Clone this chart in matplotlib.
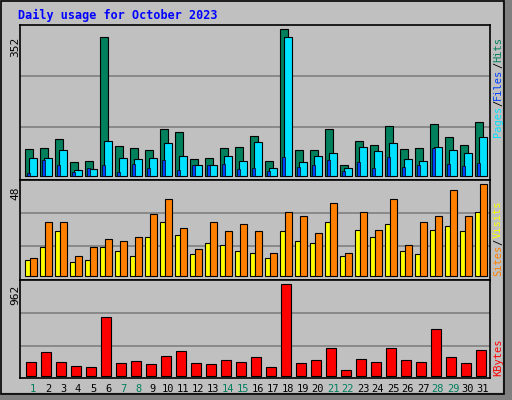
import matplotlib
matplotlib.use("Agg")
import matplotlib.pyplot as plt
from matplotlib.patches import Rectangle

days = list(range(1, 32))
weekend = [1, 7, 8, 14, 15, 21, 22, 28, 29]
hits = [68, 71, 94, 36, 38, 352, 76, 71, 66, 121, 111, 43, 46, 71, 73, 101, 40, 372, 66, 66, 121, 28, 89, 79, 127, 68, 71, 132, 99, 79, 137]
files = [46, 46, 66, 15, 18, 89, 46, 43, 46, 84, 51, 28, 28, 51, 38, 86, 20, 352, 35, 51, 58, 20, 73, 63, 84, 43, 38, 73, 66, 58, 99]
pages = [8, 41, 28, 10, 20, 28, 10, 30, 20, 41, 15, 28, 28, 30, 18, 20, 13, 48, 23, 28, 41, 13, 35, 20, 48, 23, 28, 71, 30, 25, 33]
visits = [8.4, 15.2, 23.5, 7.3, 8.4, 15.2, 13.1, 10.4, 20.3, 28.2, 21.4, 11.5, 17.2, 16.2, 13.1, 12.0, 9.4, 23.5, 18.3, 17.2, 28.2, 10.4, 24.0, 20.3, 27.2, 13.1, 11.5, 24.0, 26.1, 23.5, 33.4]
sites = [9.4, 28.2, 28.2, 10.4, 15.2, 19.3, 18.3, 20.3, 32.3, 40.1, 25.1, 14.1, 28.2, 23.5, 27.2, 23.5, 11.9, 33.4, 31.3, 22.5, 38.1, 11.9, 33.4, 24.0, 40.1, 16.2, 28.2, 31.3, 45.1, 31.3, 48.0]
kbytes = [140, 246, 140, 98, 88, 615, 130, 151, 119, 204, 256, 130, 119, 161, 140, 193, 88, 962, 130, 161, 288, 56, 172, 140, 288, 161, 140, 488, 193, 130, 267]

W, H = 512, 400
fig = plt.figure(figsize=(5.12, 4.0), dpi=100, facecolor="#C0C0C0")
fig.patches.append(Rectangle((503/W, 0), 9/W, 1, transform=fig.transFigure, color="#808080", zorder=0))
fig.patches.append(Rectangle((0, 0), 1, 7/H, transform=fig.transFigure, color="#808080", zorder=0))
fig.patches.append(Rectangle((0.5/W, 6/H), 503/W, 393/H, transform=fig.transFigure, fill=False, ec="black", lw=1.2, zorder=1))

def px_axes(x0, y0, x1, y1):
    return fig.add_axes([x0/W, 1-y1/H, (x1-x0)/W, (y1-y0)/H])

def setup(ax, top_val, base_px, top_px, y0, y1, grid_px):
    k = top_val/(base_px-top_px)
    ax.set_ylim(-(y1-base_px)*k, (base_px-y0)*k)
    ax.set_xlim(1-5/15, 1+465/15)
    ax.set_facecolor("#C0C0C0")
    for g in grid_px:
        ax.axhline((base_px-g)*k, color="#808080", lw=1.2, zorder=0)
    ax.set_xticks([]); ax.set_yticks([])
    for s in ax.spines.values():
        s.set_color("black"); s.set_linewidth(1.2)

ax1 = px_axes(20, 25, 490, 180)
setup(ax1, 352, 176.3, 37.3, 25, 180, [127.3, 76.3])
ax1.bar(days, hits, width=8/15, align="edge", color="#00805C", ec="black", lw=0.8, zorder=2)
ax1.bar([d+4/15 for d in days], files, width=8/15, align="edge", color="#00E0FF", ec="black", lw=0.8, zorder=3)
ax1.bar([d+2/15 for d in days], pages, width=3/15, align="edge", color="#0040FF", ec="black", lw=0.5, zorder=4)

ax2 = px_axes(20, 180, 490, 280)
setup(ax2, 48, 276.3, 184.3, 180, 280, [246.3, 213.3])
ax2.bar(days, visits, width=5/15, align="edge", color="#FFFF00", ec="black", lw=0.8, zorder=2)
ax2.bar([d+5/15 for d in days], sites, width=7/15, align="edge", color="#FF8000", ec="black", lw=0.8, zorder=3)

ax3 = px_axes(20, 280, 490, 378)
setup(ax3, 962, 375.7, 284.3, 280, 378, [346, 313.3])
ax3.bar([d+1/15 for d in days], kbytes, width=10/15, align="edge", color="#FF0000", ec="black", lw=0.8, zorder=2)

mono = "DejaVu Sans Mono"
fig.text(18/W, 1-15/H, "Daily usage for October 2023", color="#0000FF", family=mono,
         weight="bold", fontsize=8.5, va="center")
for lab, y in [("352", 37), ("48", 186), ("962", 285)]:
    fig.text(15/W, 1-y/H, lab, rotation=90, ha="center", va="top", fontsize=8, family=mono)

renderer = fig.canvas.get_renderer()
def vtext(y_bottom, parts):
    y = 1 - y_bottom/H
    for t, c in parts:
        tx = fig.text(498/W, y, t, rotation=90, color=c, ha="center", va="bottom",
                      fontsize=7.5, family=mono)
        bb = tx.get_window_extent(renderer)
        y += bb.height/H
vtext(137, [("Pages", "#00E0FF"), ("/", "black"), ("Files", "#0040FF"), ("/", "black"), ("Hits", "#00805C")])
vtext(276, [("Sites", "#FF8000"), ("/", "black"), ("Visits", "#FFFF00")])
vtext(376, [("KBytes", "#FF0000")])

for d in days:
    x = 25 + (d-1)*15 + 8
    fig.text(x/W, 1-389/H, str(d), ha="center", va="center", fontsize=7.5, family=mono,
             color="#00805C" if d in weekend else "black")

fig.savefig("out.png", dpi=100, facecolor="#C0C0C0")
